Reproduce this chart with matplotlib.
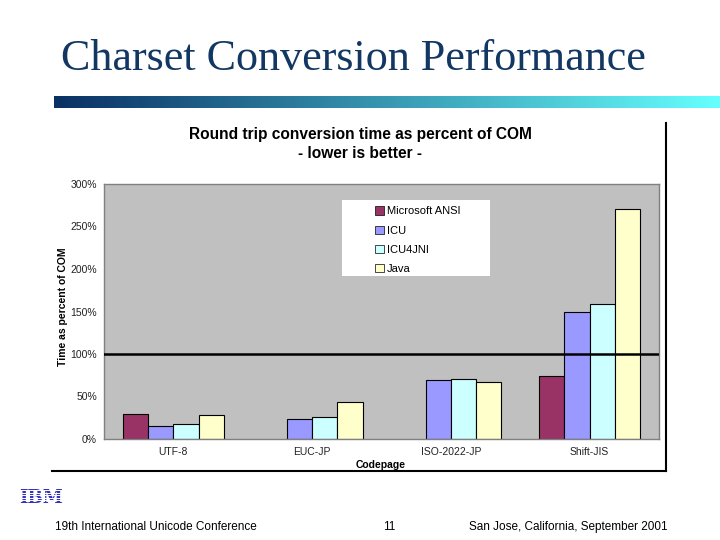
import numpy as np
import matplotlib
matplotlib.use("Agg")
import matplotlib.pyplot as plt
from matplotlib.patches import Rectangle, Patch
from matplotlib.lines import Line2D
from matplotlib.ticker import FuncFormatter

# ---- data ----
categories = ["UTF-8", "EUC-JP", "ISO-2022-JP", "Shift-JIS"]
series_names = ["Microsoft ANSI", "ICU", "ICU4JNI", "Java"]
ms_ansi = [29, np.nan, np.nan, 74]
icu = [15, 24, 70, 149]
icu4jni = [18, 26, 71, 159]
java = [28, 44, 67, 270]
yticks = [0, 50, 100, 150, 200, 250, 300]
reference_level = 100

series_values = [ms_ansi, icu, icu4jni, java]
colors = ["#993366", "#9999FF", "#CCFFFF", "#FFFFCC"]

W, H = 720, 540
fig = plt.figure(figsize=(7.2, 5.4), dpi=100)
fig.patch.set_facecolor("white")

def fx(x):
    return x / W

def fy(y):
    return 1 - y / H

# slide title
fig.text(fx(353), fy(59), "Charset Conversion Performance", family="Liberation Serif",
         fontsize=31.8, color="#123763", ha="center", va="center")

# gradient bar
gax = fig.add_axes([fx(54), fy(108), fx(720 - 54), (108 - 96) / H])
c0 = np.array([10, 48, 100]) / 255
c1 = np.array([102, 255, 255]) / 255
t = np.linspace(0, 1, 256)
grad = (c0[None, :] * (1 - t[:, None]) + c1[None, :] * t[:, None])[None, :, :]
gax.imshow(grad, aspect="auto", extent=[0, 1, 0, 1])
gax.axis("off")

# chart area border (right & bottom)
fig.add_artist(Line2D([fx(666), fx(666)], [fy(123), fy(471)], color="black", lw=1.5))
fig.add_artist(Line2D([fx(52), fx(666)], [fy(471), fy(471)], color="black", lw=1.5))

# plot area
ax = fig.add_axes([fx(104), fy(439), fx(659 - 104), (439 - 184) / H])
ax.set_facecolor("#C0C0C0")
n = len(series_values)
w = 1 / (n + 1.5)
x = np.arange(len(categories))
for j, (vals, col) in enumerate(zip(series_values, colors)):
    ax.bar(x + (j - (n - 1) / 2) * w, vals, width=w, color=col, edgecolor="black",
           linewidth=0.8, zorder=2)
ax.axhline(reference_level, color="black", lw=1.8, zorder=3)
ax.set_xlim(-0.5, len(categories) - 0.5)
ax.set_ylim(0, 300)
ax.set_yticks(yticks)
ax.yaxis.set_major_formatter(FuncFormatter(lambda v, p: f"{int(v)}%"))
ax.set_xticks(x)
ax.set_xticklabels(categories)
ax.tick_params(axis="both", length=0, labelsize=7.5, colors="#222222")
ax.tick_params(axis="y", pad=5)
ax.tick_params(axis="x", pad=6)
for s in ax.spines.values():
    s.set_color("#808080")
    s.set_linewidth(1)
for lab in ax.get_xticklabels() + ax.get_yticklabels():
    lab.set_family("Liberation Sans")

# chart titles
fig.text(fx(360), fy(135), "Round trip conversion time as percent of COM", family="Liberation Sans",
         fontsize=11.2, fontweight="bold", ha="center", va="center")
fig.text(fx(360), fy(153), "- lower is better -", family="Liberation Sans",
         fontsize=11.2, fontweight="bold", ha="center", va="center")
fig.text(fx(381), fy(465), "Codepage", family="Liberation Sans", fontsize=7.5,
         fontweight="bold", ha="center", va="center")
fig.text(fx(63), fy(307), "Time as percent of COM", family="Liberation Sans", fontsize=7.5,
         fontweight="bold", ha="center", va="center", rotation=90)

# legend box
fig.add_artist(Rectangle((fx(342), fy(276)), fx(490 - 342), (276 - 200) / H,
                         facecolor="white", edgecolor="none", zorder=3))
handles = [Patch(facecolor=c, edgecolor="black", linewidth=0.5) for c in colors]
leg = fig.legend(handles, series_names, loc="upper left", bbox_to_anchor=(fx(366), fy(197)),
                 frameon=False, handlelength=0.75, handleheight=0.75,
                 handletextpad=0.3, labelspacing=0.82, borderpad=0.35,
                 prop={"family": "Liberation Sans", "size": 8})
leg.set_zorder(4)

# IBM logo
fig.text(fx(41), fy(498), "IBM", family="DejaVu Serif", fontsize=13, fontweight="bold",
         color="#3333BB", ha="center", va="center")
for yy in np.arange(490, 508, 2.6):
    fig.add_artist(Line2D([fx(18), fx(66)], [fy(yy), fy(yy)], color="white", lw=0.7, zorder=5))

# footer
fig.text(fx(55), fy(527), "19th International Unicode Conference", family="Liberation Sans",
         fontsize=8.5, ha="left", va="center")
fig.text(fx(389), fy(527), "11", family="Liberation Sans", fontsize=8.5, ha="center", va="center")
fig.text(fx(668), fy(527), "San Jose, California, September 2001", family="Liberation Sans",
         fontsize=8.5, ha="right", va="center")

fig.savefig("out.png", dpi=100)
